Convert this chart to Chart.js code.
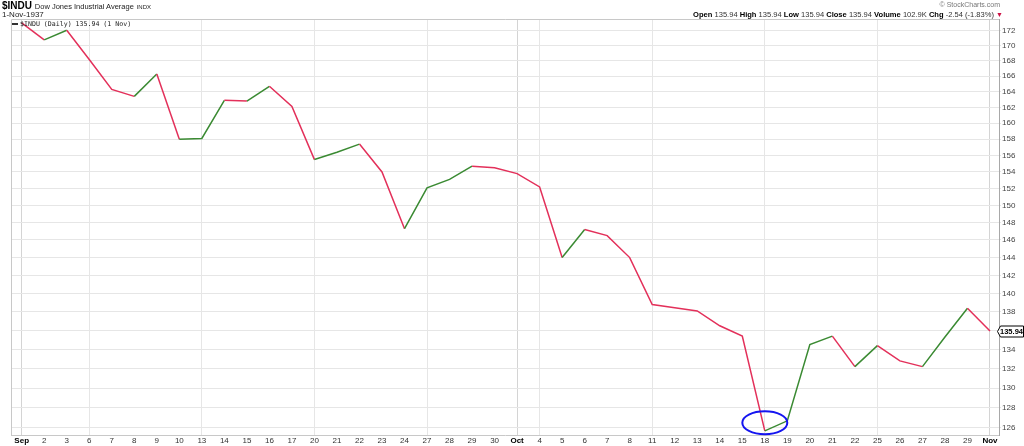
<!DOCTYPE html>
<html>
<head>
<meta charset="utf-8">
<script src="https://cdn.jsdelivr.net/npm/chart.js@4/dist/chart.umd.min.js"></script>
<style>
  html, body { margin:0; padding:0; background:#fff; }
  #wrap { position:relative; width:1024px; height:446px; overflow:hidden; font-family:'Liberation Sans', Arial, sans-serif; }
  #c { position:absolute; left:0; top:0; }
  .t { position:absolute; white-space:nowrap; color:#000; }
  .b { font-weight:bold; color:#000; }
  .v { color:#333; }
</style>
</head>
<body>
<div id="wrap">
  <canvas id="c" width="1024" height="446"></canvas>
  <div class="t" style="left:2px;top:0px;font-size:10px;font-weight:bold;">$INDU <span style="font-weight:normal;font-size:7.5px;color:#222;">Dow Jones Industrial Average</span> <span style="font-weight:normal;font-size:6px;color:#222;">INDX</span></div>
  <div class="t" style="left:2px;top:10px;font-size:8px;color:#222;">1-Nov-1937</div>
  <div class="t" style="right:24px;top:1px;font-size:7px;color:#777;">© StockCharts.com</div>
  <div class="t" style="right:21px;top:10px;font-size:7.55px;"><span class="b">Open</span> <span class="v">135.94</span> <span class="b">High</span> <span class="v">135.94</span> <span class="b">Low</span> <span class="v">135.94</span> <span class="b">Close</span> <span class="v">135.94</span> <span class="b">Volume</span> <span class="v">102.9K</span> <span class="b">Chg</span> <span class="v">-2.54 (-1.83%)</span> <span style="color:#cc1144;font-size:7px;">&#9660;</span></div>
  <div class="t" style="left:12px;top:20px;font-family:'DejaVu Sans Mono',monospace;font-size:6.6px;color:#222;"><span style="display:inline-block;width:6px;height:2px;background:#333;vertical-align:middle;margin-right:2px;"></span>$INDU (Daily) 135.94 (1 Nov)</div>
</div>
<script>
// ---- data ----
const dates = ['Sep','2','3','6','7','8','9','10','13','14','15','16','17','20','21','22','23','24','27','28','29','30',
               'Oct','4','5','6','7','8','11','12','13','14','15','18','19','20','21','22','25','26','27','28','29','Nov'];
const closes = [173.1,170.8,172.1,168.2,164.3,163.4,166.3,158.0,158.1,162.9,162.8,164.7,162.1,155.5,156.4,157.4,154.0,147.3,152.1,153.1,154.7,154.5,
                153.8,152.2,144.0,147.2,146.5,144.0,138.8,138.45,138.1,136.5,135.4,125.7,126.7,134.5,135.4,132.2,134.4,132.8,132.2,135.3,138.4,135.94];
const yTicks = [126,128,130,132,134,136,138,140,142,144,146,148,150,152,154,156,158,160,162,164,166,168,170,172];
const gridDays = [0,3,8,13,18,22,23,28,33,38,43];
const monthDays = [0,22,43];
const lastClose = 135.94;
const markIndex = [33];
const markValue = [126.5];

const RED = '#e3305a';
const GREEN = '#3a8a32';
Chart.defaults.font.family = "'Liberation Sans', Arial, sans-serif";

const extras = {
  id: 'extras',
  afterDraw(chart) {
    const ctx = chart.ctx, a = chart.chartArea;
    const xs = chart.scales.x, ys = chart.scales.y;
    ctx.save();
    // left and top plot border
    ctx.strokeStyle = '#c8c8c8'; ctx.lineWidth = 1;
    ctx.beginPath();
    ctx.moveTo(a.left + 0.5, a.bottom); ctx.lineTo(a.left + 0.5, a.top + 0.5); ctx.lineTo(a.right, a.top + 0.5);
    ctx.stroke();
    // highlight ellipse
    ctx.strokeStyle = '#1515f0'; ctx.lineWidth = 2;
    for (let i = 0; i < markIndex.length; i++) {
      const cx = xs.getPixelForValue(markIndex[i]);
      const cy = ys.getPixelForValue(markValue[i]);
      ctx.beginPath(); ctx.ellipse(cx, cy, 22.5, 11.5, 0, 0, Math.PI * 2); ctx.stroke();
    }
    // last price label
    const py = Math.round(ys.getPixelForValue(lastClose)) + 0.5;
    const x0 = a.right - 1.5, x1 = 1023.5, h = 11;
    ctx.fillStyle = '#fff'; ctx.strokeStyle = '#000'; ctx.lineWidth = 1;
    ctx.beginPath();
    ctx.moveTo(x0 + 3, py - h / 2);
    ctx.lineTo(x1, py - h / 2);
    ctx.lineTo(x1, py + h / 2);
    ctx.lineTo(x0 + 3, py + h / 2);
    ctx.lineTo(x0, py);
    ctx.closePath(); ctx.fill(); ctx.stroke();
    ctx.fillStyle = '#000'; ctx.font = "bold 7.5px 'Liberation Sans', Arial, sans-serif";
    ctx.textAlign = 'center'; ctx.textBaseline = 'middle';
    ctx.fillText(lastClose.toFixed(2), (x0 + 2 + x1) / 2, py + 0.5);
    ctx.restore();
  }
};

new Chart(document.getElementById('c'), {
  type: 'line',
  data: {
    datasets: [{
      data: closes.map((v, i) => ({ x: i, y: v })),
      borderColor: GREEN,
      borderWidth: 1.5,
      pointRadius: 0,
      tension: 0,
      segment: { borderColor: c => (c.p1.parsed.y < c.p0.parsed.y ? RED : GREEN) }
    }]
  },
  options: {
    responsive: false,
    animation: false,
    devicePixelRatio: 1,
    layout: { padding: { left: 11, top: 19, right: 0, bottom: 0 } },
    plugins: { legend: { display: false }, tooltip: { enabled: false } },
    scales: {
      x: {
        type: 'linear',
        min: -0.475, max: 43.4,
        afterBuildTicks: s => { s.ticks = dates.map((d, i) => ({ value: i })); },
        afterFit: s => { s.height = 11; },
        ticks: {
          autoSkip: false, maxRotation: 0, minRotation: 0, padding: 1,
          callback: v => dates[v],
          color: c => (monthDays.includes(c.tick.value) ? '#000' : '#333'),
          font: c => ({ size: 8, weight: monthDays.includes(c.tick && c.tick.value) ? 'bold' : 'normal' })
        },
        grid: {
          drawTicks: false,
          color: c => {
            const v = c.tick ? c.tick.value : -1;
            if (monthDays.includes(v)) return '#d4d4d4';
            if (gridDays.includes(v)) return '#e6e6e6';
            return 'rgba(0,0,0,0)';
          }
        },
        border: { display: true, color: '#c8c8c8' }
      },
      y: {
        type: 'logarithmic',
        position: 'right',
        min: 125.30, max: 173.62,
        afterBuildTicks: s => { s.ticks = yTicks.map(v => ({ value: v })); },
        afterFit: s => { s.width = 25; },
        ticks: {
          padding: 1,
          color: '#444',
          font: { size: 8 },
          callback: v => (v === 136 ? '' : String(v))
        },
        grid: { color: '#e6e6e6', drawTicks: true, tickLength: 2 },
        border: { display: true, color: '#a8a8a8' }
      }
    }
  },
  plugins: [extras]
});
</script>
</body>
</html>
